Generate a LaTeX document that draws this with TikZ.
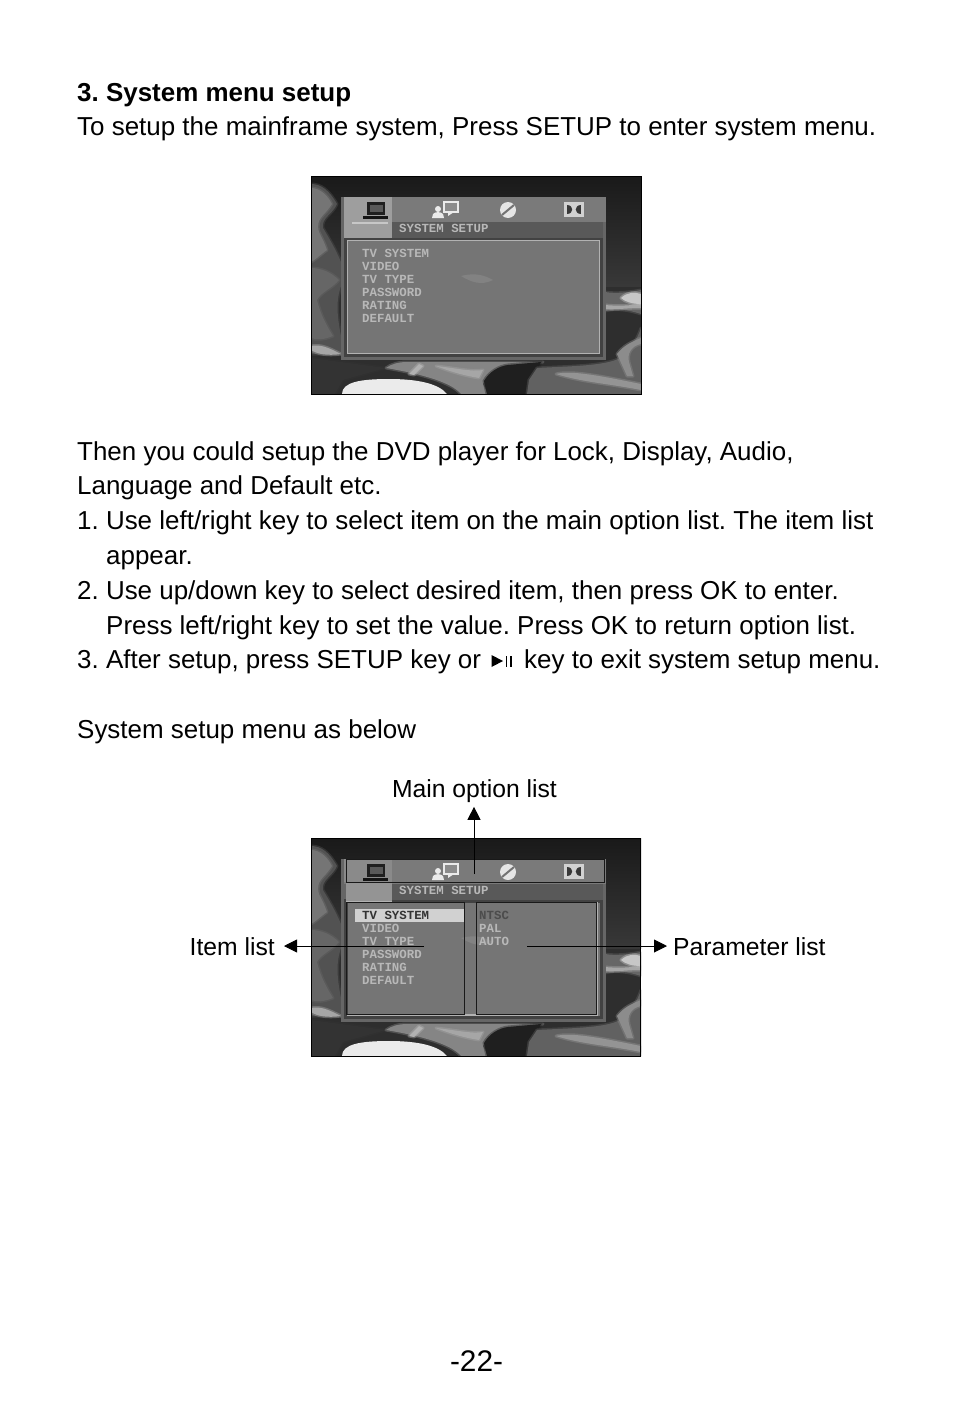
\documentclass[tikz,border=0pt]{standalone}
\usepackage{fontspec}
\setmainfont{Liberation Sans}
\newfontfamily\osdfont{Liberation Mono}[Scale=1]
\frenchspacing
\usetikzlibrary{arrows.meta}
\tikzset{
	bodytxt/.style={anchor=base west,inner sep=0pt,font=\fontsize{25.95}{30}\selectfont},
	lbl/.style={anchor=base,inner sep=0pt,font=\fontsize{24.7}{30}\selectfont},
	osd/.style={anchor=base west,inner sep=0pt,font=\osdfont\bfseries\fontsize{12.4}{14}\selectfont,text=#1},
	osd/.default={black!28},
	soft/.style={fill=#1,draw=#1,line width=3pt,draw opacity=.4,line join=round},
	callout/.style={-{Triangle[length=13pt,width=13pt]},line width=.9pt},
	overlay box/.style={draw=black!90,line width=.9pt},
	pics/screenbg/.style={code={
		\fill[black!82] (0,0) rectangle (330,218);
		\begin{scope}
			\clip (0,0) rectangle (330,218);
			\shade[top color=black!90,bottom color=black!78] (0,0) rectangle (330,110);
			\fill[soft=black!68] (0,8) .. controls (10,8) and (18,14) .. (26,28) .. controls (22,38) and (10,42) .. (12,52) .. controls (18,62) and (24,72) .. (30,86) -- (34,100) .. controls (26,118) and (24,130) .. (30,160) -- (34,178) -- (0,178) -- cycle;
			\fill[soft=black!54] (0,12) .. controls (8,12) and (16,18) .. (21,28) .. controls (14,40) and (4,42) .. (8,56) .. controls (12,64) and (14,68) .. (16,74) .. controls (8,80) and (4,84) .. (0,86) -- cycle;
			\fill[soft=black!60] (0,92) .. controls (10,92) and (20,96) .. (28,104) .. controls (22,112) and (10,116) .. (6,124) .. controls (10,140) and (16,150) .. (22,160) .. controls (12,164) and (6,164) .. (0,162) -- cycle;
			\fill[soft=black!35] (0,170) .. controls (10,168) and (18,172) .. (30,178) .. controls (16,180) and (6,178) .. (0,174) -- cycle;
			\fill[soft=black!80] (0,182) -- (75,192) -- (32,204) -- (24,218) -- (0,218) -- cycle;
			\fill[soft=black!48] (75,192) .. controls (80,188) and (88,186) .. (96,186) -- (232,186) .. controls (200,192) and (178,196) .. (172,208) .. controls (174,212) and (176,216) .. (176,218) -- (150,218) .. controls (140,206) and (110,198) .. (75,192) -- cycle;
			\fill[soft=black!30] (98,198) -- (108,188) -- (112,190) -- (103,199) -- cycle;
			\fill[soft=black!35] (125,190) .. controls (145,192) and (160,196) .. (172,194) -- (168,202) .. controls (155,200) and (140,196) .. (125,190) -- cycle;
			\fill[soft=black!88] (173,205) .. controls (178,196) and (188,190) .. (197,189) -- (230,186) .. controls (228,192) and (222,198) .. (218,204) -- (217,218) -- (176,218) -- cycle;
			\fill[soft=black!62] (226,192) .. controls (262,190) and (300,190) .. (312,180) .. controls (320,172) and (326,164) .. (330,152) -- (330,218) -- (216,218) -- (218,204) -- cycle;
			\fill[soft=black!42] (245,198) .. controls (260,194) and (290,200) .. (330,208) -- (330,214) .. controls (300,208) and (270,206) .. (245,198) -- cycle;
			\fill[soft=black!45] (306,178) .. controls (312,170) and (320,166) .. (330,162) -- (330,168) .. controls (320,170) and (316,178) .. (318,186) -- (322,200) -- (316,200) -- cycle;
			\fill[soft=black!60] (294,116) .. controls (305,118) and (320,116) .. (330,114) -- (330,138) .. controls (318,134) and (305,132) .. (294,135) -- cycle;
			\fill[soft=black!35] (294,129) .. controls (305,130) and (315,130) .. (330,128) -- (330,132) .. controls (315,132) and (305,134) .. (294,133) -- cycle;
			\fill[soft=black!22] (310,122) .. controls (316,116) and (324,116) .. (330,118) -- (330,128) .. controls (322,128) and (314,126) .. (310,122) -- cycle;
			\fill[white!92!black] (31,218) .. controls (31,206) and (50,203) .. (78,203) .. controls (108,203) and (128,208) .. (136,218) -- cycle;
		\end{scope}
		\fill[black!60] (30,21) rectangle (295,184);
		\fill[black!74] (33,61) rectangle (292,181);
		\fill[black!52] (33,21) rectangle (295,46);
		\fill[black!65] (81,46) rectangle (292,62);
		\fill[black!54] (36.5,64.5) rectangle (288.5,177.5);
		\fill[black!49] (150,100) .. controls (165,96) and (175,100) .. (182,104) .. controls (170,110) and (160,106) .. (150,100) -- cycle;
	}},
	pics/menuicons/.style={code={
		\fill[black!88] (56,26) rectangle (74,39);
		\fill[black!65] (58.5,28.5) rectangle (71.5,36);
		\fill[black!92] (52,40) rectangle (77,43);
		\fill[black!8] (121,42) -- (122,38) .. controls (124,35.5) and (130,35.5) .. (132,38) -- (133,42) -- cycle;
		\fill[black!8] (127,33) circle (3pt);
		\draw[black!8,line width=1.1pt,fill=black!45] (133,26) rectangle (147,36);
		\fill[black!8] (137,36) -- (143,36) -- (137,40) -- cycle;
		\fill[black!10] (197,34) circle (8pt);
		\draw[black!55,line width=2pt] (191,39) -- (203,29);
		\fill[black!18] (253,26) rectangle (273,41);
		\fill[black!78] (256,29) -- (256,38) .. controls (263,38) and (263,29) .. (256,29) -- cycle;
		\fill[black!78] (270,29) -- (270,38) .. controls (263,38) and (263,29) .. (270,29) -- cycle;
	}}
}
\begin{document}
\begin{tikzpicture}[x=1pt,y=-1pt,>=stealth]
	\useasboundingbox[fill=white] (0,0) rectangle (954,1402);
	\foreach \nm/\x/\y/\txt in {
		intro/77/135.6/{To setup the mainframe system, Press SETUP to enter system menu.},
		thena/77/460/{Then you could setup the DVD player for Lock, Display, Audio,},
		thenb/77/494/{Language and Default etc.},
		stepa/77/529/{1. Use left/right key to select item on the main option list. The item list},
		stepaa/106/564/{appear.},
		stepb/77/599/{2. Use up/down key to select desired item, then press OK to enter.},
		stepbb/106/634/{Press left/right key to set the value. Press OK to return option list.},
		stepc/77/668/{3. After setup, press SETUP key or},
		stepcc/524/668/{key to exit system setup menu.},
		below/77/738/{System setup menu as below}}
	\node[bodytxt] (\nm) at (\x,\y) {\txt};
	\node[bodytxt,font=\fontsize{25.95}{30}\selectfont\bfseries] (title) at (77,102) {3. System menu setup};
	\fill (491.5,655) -- (503,661) -- (491.5,667) -- cycle;
	\draw[line width=1.1pt] (506.5,656) -- (506.5,667) (511,656) -- (511,667);

	% first screen
	\begin{scope}[shift={(311,176)}]
		\pic {screenbg};
		\fill[black!38] (33,21) rectangle (81,62);
		\draw[black!30,line width=1.2pt] (36.5,64.5) rectangle (288.5,177.5);
		\draw[black!22,line width=1.4pt] (41,47) -- (77,47);
		\pic {menuicons};
		\draw[black,line width=.8pt] (0,0) rectangle (330,218);
		\node[osd] (syshead) at (88,56.5) {SYSTEM SETUP};
		\foreach \nm/\y/\txt in {a/81/TV SYSTEM,b/94/VIDEO,c/107/TV TYPE,d/120/PASSWORD,e/133/RATING,f/146/DEFAULT}
		\node[osd] (ent\nm) at (51,\y) {\txt};
	\end{scope}

	% second screen
	\begin{scope}[shift={(311,838)}]
		\pic {screenbg};
		\fill[black!46] (33,21) rectangle (81,44);
		\fill[black!42] (35,45) rectangle (81,64);
		\draw[black!30,line width=1.2pt] (35,64) -- (81,64) (286,64) -- (286,177) -- (36,177);
		\fill[black!18] (44,71) rectangle (153,84);
		\pic {menuicons};
		\draw[black,line width=.8pt] (0,0) rectangle (329,218);
		\node[osd] (sysheadb) at (88,56.5) {SYSTEM SETUP};
		\node[osd=black!80] (itema) at (51,81) {TV SYSTEM};
		\foreach \nm/\y/\txt in {b/94/VIDEO,c/107/TV TYPE,d/120/PASSWORD,e/133/RATING,f/146/DEFAULT}
		\node[osd] (item\nm) at (51,\y) {\txt};
		\node[osd=black!70] (parama) at (168,81) {NTSC};
		\node[osd] (paramb) at (168,94) {PAL};
		\node[osd] (paramc) at (168,107) {AUTO};
		\draw[overlay box] (35,21) rectangle (293,44);
		\draw[overlay box] (35,64) rectangle (153,176);
		\draw[overlay box] (165,64) rectangle (285,176);
	\end{scope}

	\coordinate (mainfrom) at (474,874);
	\coordinate (itemfrom) at (424,946);
	\coordinate (paramfrom) at (527,946);
	\node[lbl] (mainlbl) at (474.5,797) {Main option list};
	\node[lbl,anchor=base east] (itemlbl) at (275,955) {Item list};
	\node[lbl,anchor=base west] (paramlbl) at (673,955) {Parameter list};
	\draw[callout,shorten >=4.5pt] (mainfrom) -- (mainfrom|-mainlbl.south);
	\draw[callout,shorten >=9pt] (itemfrom) -- (itemfrom-|itemlbl.east);
	\draw[callout,shorten >=6pt] (paramfrom) -- (paramfrom-|paramlbl.west);
	\node[anchor=base,inner sep=0pt,font=\fontsize{29.8}{32}\selectfont] (pageno) at (476.5,1371) {-22-};
\end{tikzpicture}
\end{document}
